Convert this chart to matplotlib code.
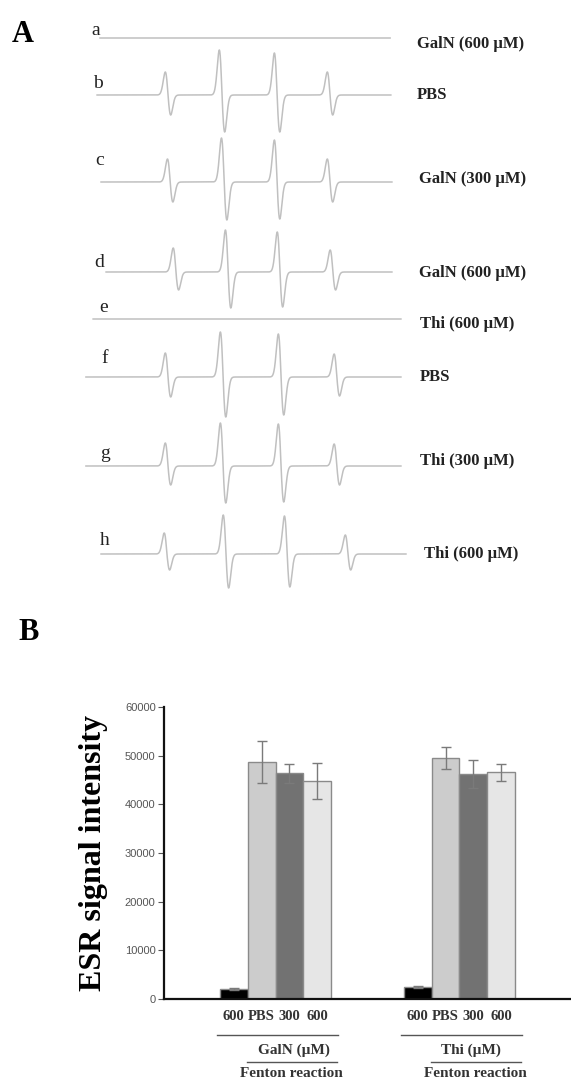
import numpy as np
import matplotlib
matplotlib.use('agg')
import matplotlib.pyplot as plt

# ---------------- data ----------------
# panel A: ESR spectra (DMPO-OH quartet), field in G relative to centre
trace_ids = ['a', 'b', 'c', 'd', 'e', 'f', 'g', 'h']
trace_names = ['GalN (600 µM)', 'PBS', 'GalN (300 µM)', 'GalN (600 µM)',
               'Thi (600 µM)', 'PBS', 'Thi (300 µM)', 'Thi (600 µM)']
field_start = [-41.4, -42.2, -41.1, -39.7, -43.3, -45.3, -45.3, -41.1]
field_end = [39.2, 39.4, 39.7, 39.7, 42.2, 42.2, 42.2, 43.6]
line_pos = [[], [-22.5, -7.5, 7.8, 22.5], [-21.9, -6.9, 7.8, 22.5],
            [-20.3, -5.8, 8.6, 23.3], [], [-22.5, -7.2, 8.9, 24.4],
            [-22.5, -7.2, 8.9, 24.4], [-22.8, -6.4, 10.6, 27.5]]
line_up = [[], [23, 45, 42, 23], [23, 44, 42, 23], [24, 42, 40, 22], [],
           [24, 45, 43, 23], [23, 43, 42, 22], [21, 39, 38, 19]]
line_down = [[], [20, 37, 37, 20], [20, 38, 37, 20], [18, 36, 35, 18], [],
             [20, 40, 38, 19], [19, 37, 36, 19], [16, 34, 33, 16]]
line_sigma = 0.75

# panel B: ESR signal intensity
conditions = ['600', 'PBS', '300', '600']
group_names = ['GalN (µM)', 'Thi (µM)']
galn_vals = [2050, 48700, 46400, 44800]
galn_err = [200, 4400, 1950, 3700]
thi_vals = [2450, 49500, 46200, 46600]
thi_err = [150, 2250, 2900, 1750]

# ---------------- layout ----------------
W, H = 571, 1081
trace_offsets = [38, 95, 182, 272, 319, 377, 466, 554]
letter_base = [35, 88, 165, 267, 312, 363, 458, 545]
letter_x = [-42.5, -42.0, -41.5, -41.5, -40.5, -40.0, -40.0, -40.0]
name_base = [48, 99, 183, 277, 328, 381, 465, 558]
name_x = [46.7, 46.7, 47.2, 47.2, 47.5, 47.5, 47.5, 48.6]
trace_col = '#c0c0c0'
serif = ['Liberation Serif', 'DejaVu Serif']

fig = plt.figure(figsize=(W / 100, H / 100), dpi=100)

# ---- panel A ----
axa = fig.add_axes([0, 1 - 600 / H, 1, 600 / H])
axa.set_xlim((0 - 249) / 3.6, (W - 249) / 3.6)
axa.set_ylim(600, 0)
axa.axis('off')

for i in range(len(trace_ids)):
    x = np.linspace(field_start[i], field_end[i], 3000)
    y = np.zeros_like(x)
    for p, u, d in zip(line_pos[i], line_up[i], line_down[i]):
        t = (x - p) / line_sigma
        g = -t * np.exp(0.5 - t ** 2 / 2)
        y += np.where(g > 0, g * u, g * d)
    axa.plot(x, trace_offsets[i] - y, color=trace_col, lw=1.1)
    axa.text(letter_x[i], letter_base[i], trace_ids[i], family=serif,
             fontsize=14, va='baseline', ha='center', color='#222222')
    axa.text(name_x[i], name_base[i], trace_names[i], family=serif,
             fontsize=12, fontweight='bold', va='baseline', ha='left',
             color='#222222')

fig.text(12 / W, 1 - 42 / H, 'A', family=serif, fontsize=22,
         fontweight='bold', va='baseline', ha='left')
fig.text(18 / W, 1 - 640 / H, 'B', family=serif, fontsize=22,
         fontweight='bold', va='baseline', ha='left')

# ---- panel B ----
axb = fig.add_axes([164 / W, 1 - 999 / H, 1 - 164 / W, 292 / H])
bw = 0.152
bar_cols = ['#000000', '#cccccc', '#727272', '#e6e6e6']
for gi, (vals, errs) in enumerate([(galn_vals, galn_err), (thi_vals, thi_err)]):
    centre = gi + 1
    xs = [centre + (k - 1.5) * bw for k in range(len(conditions))]
    axb.bar(xs, vals, width=bw, color=bar_cols, edgecolor='#8a8a8a',
            linewidth=1.0, zorder=2)
    axb.errorbar(xs, vals, yerr=errs, fmt='none', ecolor='#7a7a7a',
                 elinewidth=1.0, capsize=3.5, capthick=1.0, zorder=3)

xt = [c + (k - 1.5) * bw for c in (1, 2) for k in range(len(conditions))]
axb.set_xticks(xt)
axb.set_xticklabels(conditions * 2, family=serif, fontsize=10.5,
                    fontweight='bold', color='#333333')
axb.tick_params(axis='x', length=0, pad=8)
axb.set_xlim(0.394, 2.606)
axb.set_ylim(0, 60000)
axb.set_yticks(np.arange(0, 60001, 10000))
axb.tick_params(axis='y', direction='out', length=4, width=0.8,
                colors='#555555', labelsize=8, pad=2)
for lab in axb.get_yticklabels():
    lab.set_family(['Liberation Sans', 'DejaVu Sans'])
axb.spines['top'].set_visible(False)
axb.spines['right'].set_visible(False)
axb.spines['left'].set_linewidth(1.6)
axb.spines['bottom'].set_linewidth(1.6)
axb.spines['left'].set_color('#111111')
axb.spines['bottom'].set_color('#111111')
axb.set_ylabel('ESR signal intensity', family=serif, fontsize=23,
               fontweight='bold', labelpad=12)

tr = axb.get_xaxis_transform()
label_dx = [0.1, 0.06]
for gi, name in enumerate(group_names):
    c = gi + 1
    axb.plot([c - 0.32, c + 0.34], [-0.123, -0.123], transform=tr,
             color='#555555', lw=1.0, clip_on=False)
    axb.text(c + label_dx[gi], -0.175, name, transform=tr, family=serif,
             fontsize=11, fontweight='bold', ha='center', va='center',
             color='#333333')
    axb.plot([c - 0.155, c + 0.335], [-0.217, -0.217], transform=tr,
             color='#555555', lw=1.0, clip_on=False)
    axb.text(c + 0.085, -0.255, 'Fenton reaction', transform=tr,
             family=serif, fontsize=11, fontweight='bold', ha='center',
             va='center', color='#333333')

fig.savefig('out.png', dpi=100)
